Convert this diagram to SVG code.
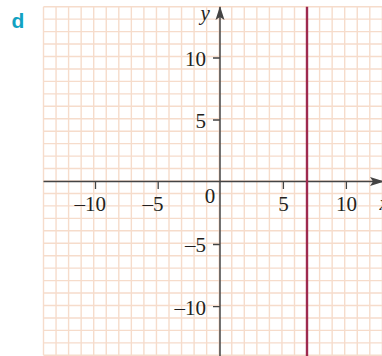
<svg xmlns="http://www.w3.org/2000/svg" width="382" height="356" viewBox="0 0 382 356">
<style>
.grid{fill:none;stroke:#f6dccb;stroke-width:1.4}
.axis{fill:none;stroke:#444;stroke-width:1.5}
.tick{fill:none;stroke:#444;stroke-width:1.3}
.num{font-family:"Liberation Serif","Times New Roman",serif;font-size:21px;fill:#231f20}
.var{font-family:"Liberation Serif","Times New Roman",serif;font-size:21px;font-style:italic;fill:#231f20}
.part{font-family:"Liberation Sans",Arial,sans-serif;font-size:21px;font-weight:bold;fill:#12a2c2}
.graph{fill:none;stroke:#9e2a4f;stroke-width:2.4}
</style>
<defs>
<marker id="arr" viewBox="0 0 14 10" refX="13" refY="5" markerWidth="14" markerHeight="10" markerUnits="userSpaceOnUse" orient="auto">
<path d="M0,0.5 L14,5 L0,9.5 L3,5 Z" fill="#444"/>
</marker>
</defs>
<rect width="382" height="356" fill="#fff"/>
<g id="grid">
<path class="grid" d="M43.5,6.7V355.3 M56.05,6.7V355.3 M68.6,6.7V355.3 M81.15,6.7V355.3 M93.7,6.7V355.3 M106.25,6.7V355.3 M118.8,6.7V355.3 M131.35,6.7V355.3 M143.9,6.7V355.3 M156.45,6.7V355.3 M169,6.7V355.3 M181.55,6.7V355.3 M194.1,6.7V355.3 M206.65,6.7V355.3 M219.2,6.7V355.3 M231.75,6.7V355.3 M244.3,6.7V355.3 M256.85,6.7V355.3 M269.4,6.7V355.3 M281.95,6.7V355.3 M294.5,6.7V355.3 M307.05,6.7V355.3 M319.6,6.7V355.3 M332.15,6.7V355.3 M344.7,6.7V355.3 M357.25,6.7V355.3 M369.8,6.7V355.3 M382.35,6.7V355.3"/>
<path class="grid" d="M43.5,6.7H383 M43.5,19.15H383 M43.5,31.6H383 M43.5,44.05H383 M43.5,56.5H383 M43.5,68.95H383 M43.5,81.4H383 M43.5,93.85H383 M43.5,106.3H383 M43.5,118.75H383 M43.5,131.2H383 M43.5,143.65H383 M43.5,156.1H383 M43.5,168.55H383 M43.5,181H383 M43.5,193.45H383 M43.5,205.9H383 M43.5,218.35H383 M43.5,230.8H383 M43.5,243.25H383 M43.5,255.7H383 M43.5,268.15H383 M43.5,280.6H383 M43.5,293.05H383 M43.5,305.5H383 M43.5,317.95H383 M43.5,330.4H383 M43.5,342.85H383 M43.5,355.3H383"/>
</g>
<g id="axes">
<line class="axis" x1="43.5" y1="181.5" x2="383" y2="181.5" marker-end="url(#arr)"/>
<line class="axis" x1="220" y1="356" x2="220" y2="7" marker-end="url(#arr)"/>
<path class="tick" d="M95.5,181.5V189 M158.2,181.5V189 M283.4,181.5V189 M346.4,181.5V189 M213,58H220 M213,120H220 M213,244.5H220 M213,306.7H220"/>
</g>
<g id="labels">
<text class="part" x="11.5" y="27.5">d</text>
<text class="var" x="200.5" y="19.5">y</text>
<text class="var" x="379.5" y="210">x</text>
<text class="num" x="106" y="211" text-anchor="end">–10</text>
<text class="num" x="163.4" y="211" text-anchor="end">–5</text>
<text class="num" x="210" y="203.3" text-anchor="middle">0</text>
<text class="num" x="283.5" y="211" text-anchor="middle">5</text>
<text class="num" x="346.6" y="211" text-anchor="middle">10</text>
<text class="num" x="206" y="65.5" text-anchor="end">10</text>
<text class="num" x="206" y="127.5" text-anchor="end">5</text>
<text class="num" x="206" y="252" text-anchor="end">–5</text>
<text class="num" x="206" y="314.5" text-anchor="end">–10</text>
</g>
<g id="line-x7">
<line class="graph" x1="307" y1="6.7" x2="307" y2="356"/>
</g>
</svg>
